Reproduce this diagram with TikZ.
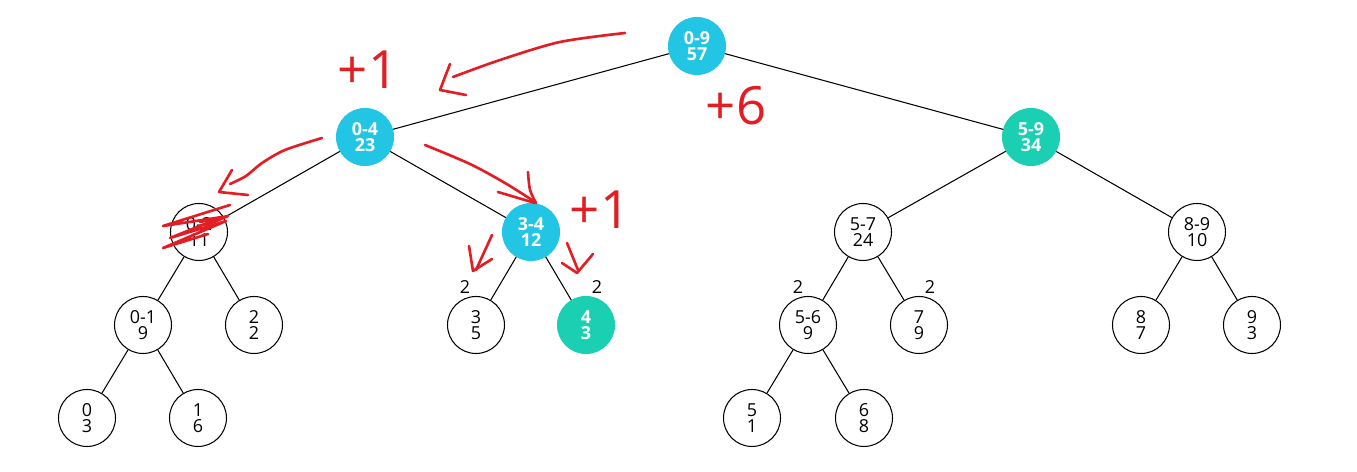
\documentclass[tikz,border=0pt]{standalone}
\usepackage{fontspec}
\setmainfont{Open Sans}
\usetikzlibrary{calc}
\definecolor{segcyan}{RGB}{34,198,228}
\definecolor{segteal}{RGB}{26,207,178}
\definecolor{marker}{RGB}{226,30,36}
\tikzset{
  seg/.style={circle, draw=black, line width=0.6pt, minimum size=1.14cm, inner sep=0pt, align=center, font=\fontsize{10.2}{9.2}\selectfont},
  hot/.style={seg, draw=segcyan, fill=segcyan, text=white, font=\fontsize{10.2}{9.2}\selectfont\bfseries},
  done/.style={hot, draw=segteal, fill=segteal},
  lazy/.style={font=\fontsize{10.2}{9}\selectfont},
  scrawl/.style={draw=marker, line width=1.5pt, line cap=round, line join=round},
  note/.style={text=marker, font=\fontsize{30}{30}\selectfont},
}

\begin{document}
\begin{tikzpicture}[x=0.02cm, y=-0.02cm]
			\useasboundingbox (0, 0) rectangle (1357, 472);
			
			%%%%% TREE %%%%%
			\node[hot] (n09) at (697, 46) {0-9\\57};
			\node[hot] (n04) at (365, 137) {0-4\\23};
			\node[done] (n59) at (1031, 137) {5-9\\34};
			
			\node[seg] (n02) at (199, 232) {0-2\\11};
			\node[hot] (n34) at (531, 232) {3-4\\12};
			\node[seg] (n57) at (863, 232) {5-7\\24};
			\node[seg] (n89) at (1197, 232) {8-9\\10};
			
			\node[seg] (n01) at (143, 325) {0-1\\9};
			\node[seg] (n2) at (254, 325) {2\\2};
			\node[seg] (n3) at (476, 325) {3\\5};
			\node[done] (n4) at (586, 325) {4\\3};
			\node[seg] (n56) at (808, 325) {5-6\\9};
			\node[seg] (n7) at (919, 325) {7\\9};
			\node[seg] (n8) at (1141, 325) {8\\7};
			\node[seg] (n9) at (1252, 325) {9\\3};
			
			\node[seg] (n0) at (87, 418) {0\\3};
			\node[seg] (n1) at (198, 418) {1\\6};
			\node[seg] (n5) at (752, 418) {5\\1};
			\node[seg] (n6) at (864, 418) {6\\8};
			
			\draw[line width=0.6pt] (n09) -- (n04);
			\draw[line width=0.6pt] (n09) -- (n59);
			\draw[line width=0.6pt] (n04) -- (n02);
			\draw[line width=0.6pt] (n04) -- (n34);
			\draw[line width=0.6pt] (n59) -- (n57);
			\draw[line width=0.6pt] (n59) -- (n89);
			\draw[line width=0.6pt] (n02) -- (n01);
			\draw[line width=0.6pt] (n02) -- (n2);
			\draw[line width=0.6pt] (n34) -- (n3);
			\draw[line width=0.6pt] (n34) -- (n4);
			\draw[line width=0.6pt] (n57) -- (n56);
			\draw[line width=0.6pt] (n57) -- (n7);
			\draw[line width=0.6pt] (n89) -- (n8);
			\draw[line width=0.6pt] (n89) -- (n9);
			\draw[line width=0.6pt] (n01) -- (n0);
			\draw[line width=0.6pt] (n01) -- (n1);
			\draw[line width=0.6pt] (n56) -- (n5);
			\draw[line width=0.6pt] (n56) -- (n6);
			
			% lazy tags
			\node[lazy] (t3) at (465, 287) {2};
			\node[lazy] (t4) at (597, 287) {2};
			\node[lazy] (t56) at (798, 287) {2};
			\node[lazy] (t7) at (930, 287) {2};
			
			%%%%% MARKER %%%%%
			\node[note] (p04) at (368, 70) {+1};
			\node[note] (p59) at (736, 106) {+6};
			\node[note] (p34) at (600, 210) {+1};
			
			\draw[scrawl] plot[smooth] coordinates {(625, 33) (560, 42) (500, 60) (453, 77)};
			\draw[scrawl] (450, 64) -- (440, 90) -- (466, 95);
			
			\draw[scrawl] plot[smooth] coordinates {(322, 138) (285, 150) (262, 163) (246, 176) (230, 184)};
			\draw[scrawl] (232, 170) -- (219, 192) -- (248, 195);
			\draw[scrawl] (230, 205) -- (163, 226) -- (222, 217) -- (170, 238) -- (226, 221) -- (163, 248) -- (208, 234);
			\draw[scrawl] (200, 222) -- (228, 216) -- (205, 226);
			
			\draw[scrawl] plot[smooth] coordinates {(425, 145) (470, 164) (505, 183) (532, 200)};
			\draw[scrawl] (498, 192) -- (535, 203);
			\draw[scrawl] plot[smooth] coordinates {(528, 172) (530, 190) (536, 203)};
			
			\draw[scrawl] (492, 235) -- (476, 270);
			\draw[scrawl] (469, 246) -- (473, 271) -- (492, 259);
			\draw[scrawl] (567, 243) -- (578, 270);
			\draw[scrawl] (562, 263) -- (577, 273) -- (593, 254);
			
		\end{tikzpicture}
\end{document}
